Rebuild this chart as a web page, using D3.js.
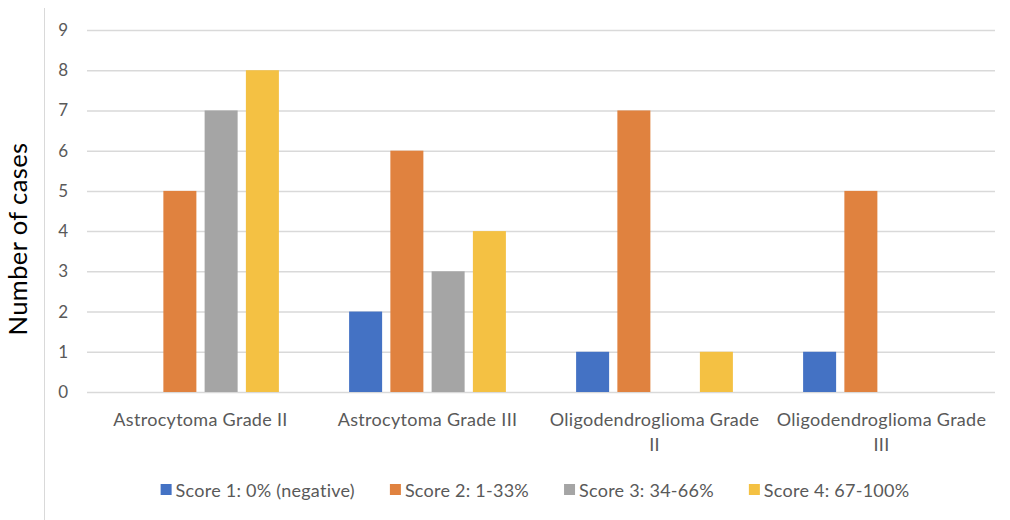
<!DOCTYPE html>
<html>
<head>
<meta charset="utf-8">
<script src="https://cdn.jsdelivr.net/npm/d3@7"></script>
<style>
  html, body { margin: 0; padding: 0; background: #fff; }
  svg { display: block; font-family: Lato, "Open Sans", sans-serif; }
</style>
</head>
<body>
<svg id="chart" width="1010" height="520"></svg>
<script>
// Tumour categories along the x axis
const categories = [
  "Astrocytoma Grade II",
  "Astrocytoma Grade III",
  "Oligodendroglioma Grade II",
  "Oligodendroglioma Grade III"
];

// Staining score series
const seriesNames = [
  "Score 1: 0% (negative)",
  "Score 2: 1-33%",
  "Score 3: 34-66%",
  "Score 4: 67-100%"
];
const seriesColors = ["#4472C4", "#E0823F", "#A5A5A5", "#F4C143"];

// Number of cases per category, one array per score
const score1 = [0, 2, 1, 1];
const score2 = [5, 6, 7, 5];
const score3 = [7, 3, 0, 0];
const score4 = [8, 4, 1, 0];
const seriesValues = [score1, score2, score3, score4];

const yTicks = [0, 1, 2, 3, 4, 5, 6, 7, 8, 9];
const yTitle = "Number of cases";

const svg = d3.select("#chart");

const plot = { left: 87, right: 995, top: 30, bottom: 392 };

const x0 = d3.scaleBand()
  .domain(categories)
  .range([plot.left, plot.right])
  .paddingInner(0.273)
  .paddingOuter(0.1365);

const x1 = d3.scaleBand()
  .domain(d3.range(seriesNames.length))
  .range([0, x0.bandwidth()])
  .paddingInner(0.2)
  .paddingOuter(0.1);

const y = d3.scaleLinear()
  .domain([0, 9])
  .range([plot.bottom, plot.top]);

// Left frame line
svg.append("line")
  .attr("x1", 44.5).attr("x2", 44.5)
  .attr("y1", 8).attr("y2", 520)
  .attr("stroke", "#d9d9d9").attr("stroke-width", 1);

// Horizontal gridlines and y tick labels
const yAxis = d3.axisLeft(y)
  .tickValues(yTicks)
  .tickSize(-(plot.right - plot.left))
  .tickPadding(19)
  .tickFormat(d3.format("d"));

const gy = svg.append("g")
  .attr("transform", `translate(${plot.left},0)`)
  .call(yAxis);
gy.select(".domain").remove();
gy.selectAll(".tick line")
  .attr("stroke", "#d9d9d9")
  .attr("stroke-width", 1.5);
gy.selectAll(".tick text")
  .attr("fill", "#595959")
  .attr("font-size", 17)
  .attr("font-family", "Lato, sans-serif");

// Bars
const groups = svg.append("g")
  .selectAll("g")
  .data(categories)
  .join("g")
  .attr("transform", d => `translate(${x0(d)},0)`);

groups.selectAll("rect")
  .data((d, ci) => seriesValues.map((vals, si) => ({ si, v: vals[ci] })))
  .join("rect")
  .attr("x", d => x1(d.si))
  .attr("width", x1.bandwidth())
  .attr("y", d => y(d.v))
  .attr("height", d => y(0) - y(d.v))
  .attr("fill", d => seriesColors[d.si]);

// Category labels, wrapped to fit
const xAxis = d3.axisBottom(x0).tickSize(0).tickPadding(0);
const gx = svg.append("g")
  .attr("transform", `translate(0,${plot.bottom})`)
  .call(xAxis);
gx.select(".domain").remove();

const maxLabelWidth = 222;
gx.selectAll(".tick text")
  .attr("fill", "#595959")
  .attr("font-size", 18)
  .attr("letter-spacing", 0.3)
  .attr("font-family", "Lato, sans-serif")
  .attr("dy", null)
  .each(function (d) {
    const text = d3.select(this);
    const words = d.split(" ");
    text.text(null);
    let line = [];
    let lineNo = 0;
    let tspan = text.append("tspan").attr("x", 0).attr("y", 34);
    for (const w of words) {
      line.push(w);
      tspan.text(line.join(" "));
      if (tspan.node().getComputedTextLength() > maxLabelWidth && line.length > 1) {
        line.pop();
        tspan.text(line.join(" "));
        line = [w];
        lineNo++;
        tspan = text.append("tspan").attr("x", 0).attr("y", 34 + lineNo * 25).text(w);
      }
    }
  });

// Y axis title
svg.append("text")
  .attr("transform", "translate(27,239) rotate(-90)")
  .attr("text-anchor", "middle")
  .attr("fill", "#000")
  .attr("font-size", 25.5)
  .attr("letter-spacing", 0.4)
  .attr("font-family", "Lato, sans-serif")
  .text(yTitle);

// Legend
const legend = svg.append("g");
const items = legend.selectAll("g")
  .data(seriesNames)
  .join("g");
items.append("rect")
  .attr("width", 11).attr("height", 11)
  .attr("y", -7)
  .attr("fill", (d, i) => seriesColors[i]);
items.append("text")
  .attr("x", 15)
  .attr("dy", "0.35em")
  .attr("fill", "#595959")
  .attr("font-size", 18)
  .attr("letter-spacing", 0.25)
  .attr("font-family", "Lato, sans-serif")
  .text(d => d);

let cursor = 0;
const gap = 35;
items.each(function () {
  const g = d3.select(this);
  g.attr("transform", `translate(${cursor},0)`);
  cursor += 15 + g.select("text").node().getComputedTextLength() + gap;
});
const legendWidth = cursor - gap;
legend.attr("transform", `translate(${535 - legendWidth / 2},491)`);
</script>
</body>
</html>
